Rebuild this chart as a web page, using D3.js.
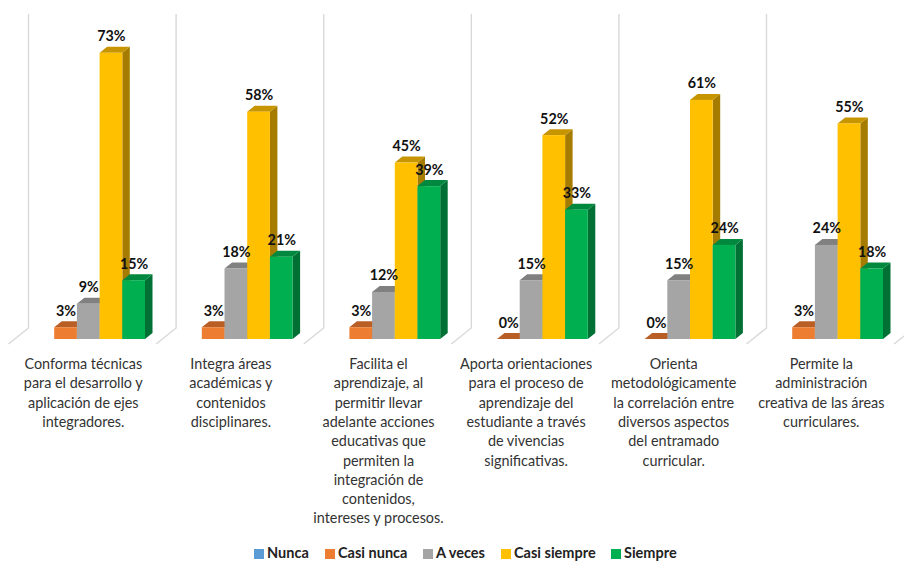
<!DOCTYPE html>
<html><head><meta charset="utf-8">
<script src="https://cdn.jsdelivr.net/npm/d3@7/dist/d3.min.js"></script>
<style>html,body{margin:0;padding:0;background:#fff;overflow:hidden}svg{display:block}text{font-family:Lato,"Open Sans",sans-serif}</style>
</head><body><svg id="c" width="904" height="562"></svg>
<script>
const categories = [
  ["Conforma técnicas","para el desarrollo y","aplicación de ejes","integradores."],
  ["Integra áreas","académicas y","contenidos","disciplinares."],
  ["Facilita el","aprendizaje, al","permitir llevar","adelante acciones","educativas que","permiten la","integración de","contenidos,","intereses y procesos."],
  ["Aporta orientaciones","para el proceso de","aprendizaje del","estudiante a través","de vivencias","significativas."],
  ["Orienta","metodológicamente","la correlación entre","diversos aspectos","del entramado","curricular."],
  ["Permite la","administración","creativa de las áreas","curriculares."]
];
const seriesNames = ["Nunca","Casi nunca","A veces","Casi siempre","Siempre"];
const nunca = [null,null,null,null,null,null];
const casiNunca = [3,3,3,0,0,3];
const aVeces = [9,18,12,15,15,24];
const casiSiempre = [73,58,45,52,61,55];
const siempre = [15,21,39,33,24,18];
const seriesValues = [nunca,casiNunca,aVeces,casiSiempre,siempre];
const front = ["#5B9BD5","#ED7D31","#A5A5A5","#FFC000","#00B050"];
const topC  = ["#44749F","#B95F26","#808080","#C79500","#00893E"];
const sideC = ["#375F82","#B05A22","#6E6E6E","#A67C00","#007034"];

const svg = d3.select("#c");
const baseY = 339, dx = 7.5, dy = 6;
const idx = d3.range(categories.length);
const x0 = d3.scaleBand().domain(idx).range([28.5, 28.5 + 147.6*6]);
const x1 = d3.scaleBand().domain(seriesNames).range([3, 116.5]);
const y = d3.scaleLinear().domain([0,100]).range([baseY, baseY - 392]);

// walls and floor
const wallX = d3.range(7).map(i => x0.range()[0] + i*x0.step());
svg.append("g").selectAll("path").data(wallX).join("path")
  .attr("d", d => `M${d},14V328L${d-20},344`)
  .attr("fill","none").attr("stroke","#d9d9d9").attr("stroke-width",1.4);

// bars
idx.forEach(c => {
  const g = svg.append("g");
  seriesNames.forEach((s,k) => {
    const v = seriesValues[k][c];
    if (v === null) return;
    const xl = x0(c) + x1(s), w = x1.bandwidth(), xr = xl + w, t = y(v);
    g.append("path").attr("fill",sideC[k])
      .attr("d",`M${xr},${t}L${xr+dx},${t-dy}V${baseY-dy}L${xr},${baseY}Z`);
    g.append("path").attr("fill",topC[k])
      .attr("d",`M${xl},${t}L${xl+dx},${t-dy}H${xr+dx}L${xr},${t}Z`);
    g.append("rect").attr("x",xl).attr("y",t).attr("width",w).attr("height",baseY-t).attr("fill",front[k]);
  });
});

// data labels
idx.forEach(c => seriesNames.forEach((s,k) => {
  const v = seriesValues[k][c];
  if (v === null) return;
  svg.append("text").attr("x",x0(c)+x1(s)+x1.bandwidth()/2+0.5).attr("y",y(v)-11.5)
    .attr("text-anchor","middle").attr("font-size",14.3).attr("font-weight",700)
    .attr("fill","#111").text(v+"%");
}));

// category labels
idx.forEach(c => {
  const t = svg.append("text").attr("text-anchor","middle").attr("font-size",14.4).attr("fill","#333");
  categories[c].forEach((l,i) => t.append("tspan")
    .attr("x",x0(c)+x0.bandwidth()/2-19).attr("y",369+i*19.3).text(l));
});

// legend
const legX = [254,325,423,501,611];
const leg = svg.append("g");
seriesNames.forEach((s,k) => {
  leg.append("rect").attr("x",legX[k]).attr("y",549).attr("width",10).attr("height",10).attr("fill",front[k]);
  leg.append("text").attr("x",legX[k]+13).attr("y",558.2).attr("font-size",14.5).attr("font-weight",700).attr("fill","#222").text(s);
});
</script></body></html>
